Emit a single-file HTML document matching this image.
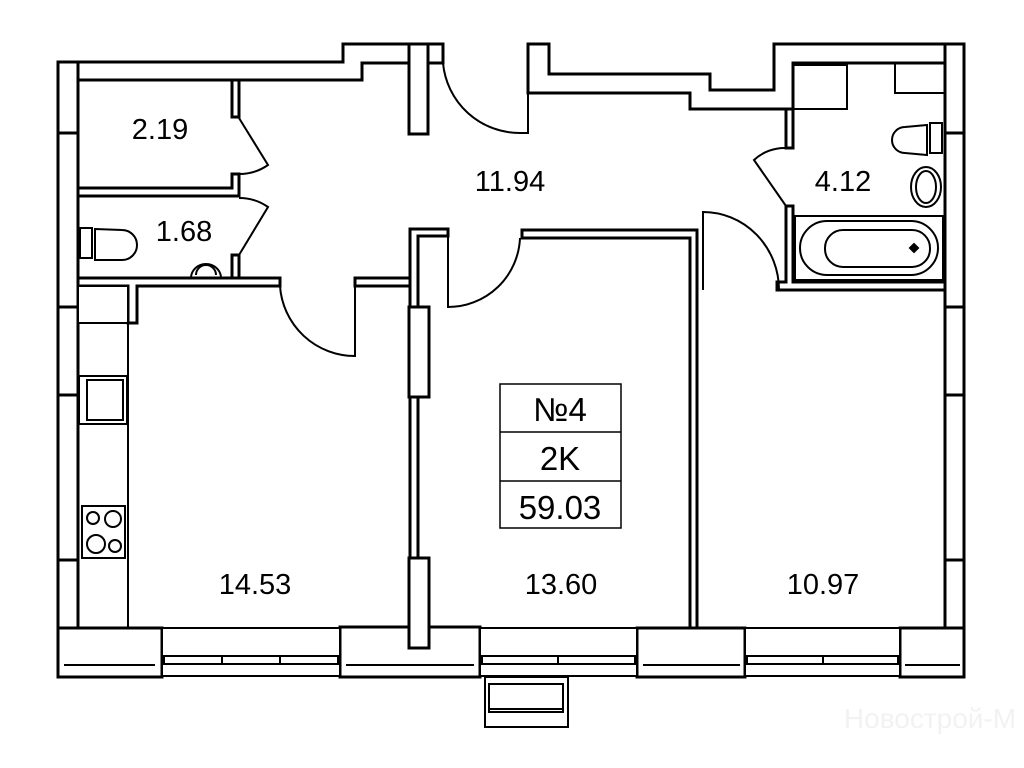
<!DOCTYPE html>
<html><head><meta charset="utf-8"><style>
html,body{margin:0;padding:0;background:#fff;}
svg{display:block}
text{font-family:"Liberation Sans","DejaVu Sans",sans-serif;fill:#000}
</style></head><body>
<svg width="1024" height="768" viewBox="0 0 1024 768" xmlns="http://www.w3.org/2000/svg">
<g fill="#fff" stroke="#000" stroke-width="3">
<rect x="58" y="62" width="20" height="615"/>
<rect x="945" y="44" width="19" height="633"/>
<polygon points="78,62 343,62 343,44 443,44 443,63 362,63 362,80 78,80"/>
<rect x="409" y="44" width="19" height="90"/>
<polygon points="528,44 549,44 549,74 710,74 710,90 774,90 774,44 945,44 945,63 793,63 793,109 690,109 690,93 528,93"/>
<rect x="58" y="628" width="104" height="49"/>
<rect x="340" y="627" width="140" height="50"/>
<rect x="637" y="628" width="108" height="49"/>
<rect x="900" y="628" width="64" height="49"/>
<rect x="162" y="628" width="178" height="48" stroke-width="2"/>
<rect x="480" y="628" width="157" height="48" stroke-width="2"/>
<rect x="745" y="628" width="155" height="48" stroke-width="2"/>
</g>
<g stroke="#000" fill="none">
<g stroke-width="2">
<rect x="164" y="656" width="174" height="8"/>
<line x1="222" y1="656" x2="222" y2="664"/><line x1="280" y1="656" x2="280" y2="664"/>
<rect x="482" y="656" width="153" height="8"/>
<line x1="558" y1="656" x2="558" y2="664"/>
<rect x="747" y="656" width="151" height="8"/>
<line x1="823" y1="656" x2="823" y2="664"/>
<line x1="64" y1="665" x2="155" y2="665"/>
<line x1="346" y1="665" x2="474" y2="665"/>
<line x1="643" y1="665" x2="740" y2="665"/>
<line x1="905" y1="665" x2="960" y2="665"/>
<rect x="485" y="677" width="83" height="50"/>
<rect x="489" y="684" width="74" height="28"/>
<line x1="489" y1="709" x2="563" y2="709"/>
</g>
<g stroke-width="3">
<line x1="58" y1="133" x2="78" y2="133"/><line x1="58" y1="307" x2="78" y2="307"/>
<line x1="58" y1="395" x2="78" y2="395"/><line x1="58" y1="560" x2="78" y2="560"/>
<line x1="945" y1="133" x2="964" y2="133"/><line x1="945" y1="307" x2="964" y2="307"/>
<line x1="945" y1="395" x2="964" y2="395"/><line x1="945" y1="560" x2="964" y2="560"/>
</g>
</g>
<g fill="#fff" stroke="#000" stroke-width="3">
<rect x="232" y="80" width="7" height="37"/>
<polygon points="78,188 232,188 232,174 239,174 239,196 78,196"/>
<rect x="232" y="255" width="7" height="23"/>
<polygon points="78,278 280,278 280,286 137,286 137,323 128,323 128,286 78,286"/>
<rect x="355" y="278" width="55" height="8"/>
<rect x="78" y="286" width="50" height="37" stroke-width="2"/>
<polygon points="410,229 448,229 448,236 418,236 418,628 410,628"/>
<rect x="409" y="307" width="20" height="90"/>
<rect x="409" y="558" width="20" height="90"/>
<polygon points="522,230 697,230 697,628 690,628 690,238 522,238"/>
<rect x="786" y="109" width="7" height="39"/>
<polygon points="786,206 793,206 793,282 945,282 945,290 777,290 777,282 786,282"/>
</g>
<g stroke="#000" fill="none" stroke-width="2">
<path d="M443,63 A77,77 0 0 0 520,133 L528,133 L528,93"/>
<path d="M239,118 L268,165 A50,50 0 0 1 239,174"/>
<path d="M239,198 A50,50 0 0 1 268,207 L239,255"/>
<path d="M280,286 A75,75 0 0 0 355,356 L355,286"/>
<path d="M448,236 L448,307 A72,72 0 0 0 520,238"/>
<path d="M786,148 A45,45 0 0 0 754,160 L786,206"/>
<path d="M703,290 L703,212 A76,78 0 0 1 779,290"/>
<line x1="128" y1="323" x2="128" y2="628"/>
<rect x="79" y="376" width="48" height="48"/>
<rect x="87" y="380" width="36" height="40"/>
<rect x="82" y="506" width="43" height="52"/>
<circle cx="93" cy="518" r="6"/><circle cx="113" cy="519" r="8"/>
<circle cx="96" cy="544" r="9"/><circle cx="115" cy="546" r="6"/>
<rect x="795" y="216" width="148" height="64"/>
<rect x="800" y="221" width="138" height="54" rx="27"/>
<rect x="825" y="230" width="105" height="37" rx="18"/>
<path d="M910,248 l4,-4 l4,4 l-4,4z" fill="#000"/>
<rect x="930" y="123" width="12" height="30"/>
<path d="M927,125 L905,127 A13,13 0 0 0 905,153 L927,155Z"/>
<ellipse cx="926" cy="187" rx="15" ry="20"/>
<ellipse cx="926" cy="187" rx="10" ry="16"/>
<rect x="895" y="63" width="50" height="30"/>
<rect x="793" y="65" width="54" height="44"/>
<rect x="80" y="228" width="12" height="30"/>
<path d="M95,229 L122,230 A14,14 0 0 1 122,260 L95,260Z"/>
<path d="M191,278 A15,14 0 1 1 221,278"/>
<path d="M196,275 A10,10 0 1 1 216,275"/>
<rect x="500" y="384" width="121" height="144" stroke-width="1.5"/>
<line x1="500" y1="432" x2="621" y2="432" stroke-width="1.5"/>
<line x1="500" y1="481" x2="621" y2="481" stroke-width="1.5"/>
</g>
<g font-size="29" text-anchor="middle">
<text x="160" y="139">2.19</text>
<text x="510" y="191">11.94</text>
<text x="184" y="241">1.68</text>
<text x="843" y="191">4.12</text>
<text x="255" y="594">14.53</text>
<text x="561" y="594">13.60</text>
<text x="823" y="594">10.97</text>
</g>
<g font-size="33" text-anchor="middle">
<text x="560" y="421">№4</text>
<text x="560" y="470">2K</text>
<text x="560" y="519">59.03</text>
</g>
<text x="930" y="728" font-size="28" text-anchor="middle" style="fill:#f2f2f2">Новострой-М</text>
</svg>
</body></html>
